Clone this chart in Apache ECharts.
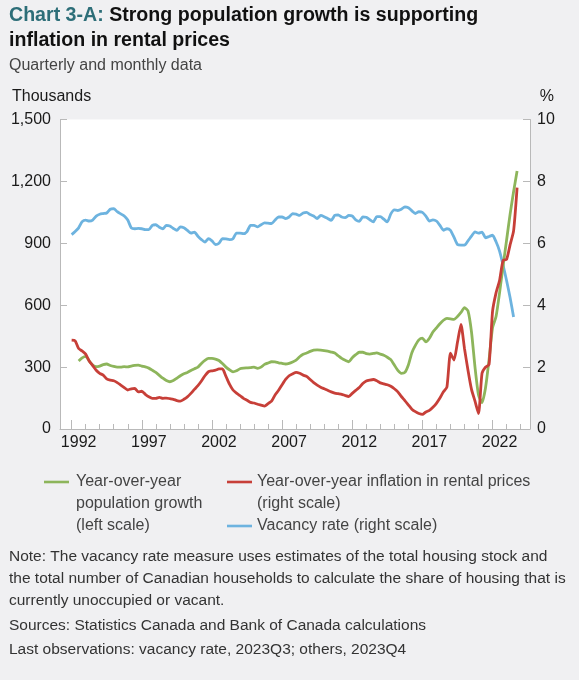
<!DOCTYPE html>
<html>
<head>
    <meta charset="utf-8">
    <title>Chart 3-A</title>
    <script type="text/javascript" src="https://cdn.jsdelivr.net/npm/echarts@6/dist/echarts.min.js"></script>
    <style>
        html, body { margin: 0; padding: 0; background: #f0f0f2; }
    </style>
</head>
<body>
<div id="main" style="width: 579px;height:680px;"></div>
<script type="text/javascript">
    // 年份刻度（每5年一个主刻度，标签放在年中）
    var majorYears = [1992, 1997, 2002, 2007, 2012, 2017, 2022];
    var minorYears = [];
    for (var y = 1992; y <= 2024; y++) minorYears.push(y);

    // 空置率（%，右轴），季度，1992Q1 - 2023Q3
    var vacancyStart = 1992.0;
    var vacancy = [
        6.28, 6.38, 6.50, 6.70, 6.75, 6.72, 6.75, 6.88, 6.94, 6.96, 6.98, 7.10,
        7.12, 7.02, 6.95, 6.88, 6.75, 6.50, 6.47, 6.48, 6.47, 6.44, 6.44, 6.58,
        6.60, 6.52, 6.47, 6.58, 6.56, 6.48, 6.42, 6.53, 6.50, 6.42, 6.33, 6.36,
        6.23, 6.12, 6.04, 6.15, 6.08, 5.96, 6.00, 6.15, 6.14, 6.12, 6.15, 6.33,
        6.33, 6.31, 6.38, 6.58, 6.58, 6.53, 6.60, 6.66, 6.65, 6.64, 6.75, 6.85,
        6.85, 6.80, 6.85, 6.96, 6.94, 6.90, 6.98, 7.00, 6.93, 6.88, 6.80, 6.90,
        6.86, 6.80, 6.74, 6.90, 6.92, 6.85, 6.83, 6.90, 6.88, 6.76, 6.71, 6.85,
        6.84, 6.76, 6.69, 6.86, 6.86, 6.78, 6.69, 6.95, 7.08, 7.06, 7.10, 7.18,
        7.15, 7.05, 6.96, 7.02, 7.00, 6.88, 6.72, 6.76, 6.72, 6.58, 6.42, 6.47,
        6.42, 6.20, 5.96, 5.94, 5.94, 6.08, 6.23, 6.37, 6.33, 6.36, 6.18, 6.22,
        6.26, 6.05, 5.75, 5.30, 4.80, 4.25, 3.62
    ];

    // 人口同比增长（千人，左轴），季度，1992Q3 - 2023Q4
    var popStart = 1992.5;
    var population = [
        330, 345, 352, 330, 310, 302, 305, 312, 315, 308, 303, 300,
        300, 302, 301, 305, 308, 310, 305, 301, 295, 285, 274, 260,
        246, 235, 229, 235, 246, 258, 268, 274, 284, 292, 300, 318,
        333, 342, 342, 339, 332, 317, 300, 287, 277, 282, 292, 295,
        296, 297, 300, 294, 300, 313, 320, 326, 325, 321, 318, 315,
        318, 325, 334, 350, 362, 368, 376, 382, 383, 382, 380, 377,
        373, 368, 355, 342, 333, 326, 345, 360, 372, 372, 365, 363,
        366, 369, 363, 357, 348, 336, 310, 284, 270, 274, 310, 370,
        405, 432, 440, 422, 440, 470, 490, 510, 527, 536, 534, 531,
        545, 565, 588, 572, 470, 300, 165, 128, 200, 335, 490, 545,
        660, 790, 915, 1040, 1150, 1250
    ];

    // 租金同比通胀（%，右轴），1992Q1 - 2023Q4
    var rentStart = 1992.0;
    var rent = [
        2.87, 2.85, 2.60, 2.52, 2.42, 2.20, 2.05, 1.90, 1.80, 1.74, 1.62, 1.58,
        1.56, 1.50, 1.42, 1.34, 1.26, 1.30, 1.31, 1.20, 1.22, 1.12, 1.04, 0.99,
        0.99, 1.02, 0.99, 1.00, 0.98, 0.96, 0.92, 0.90, 0.96, 1.04, 1.15, 1.28,
        1.40, 1.55, 1.72, 1.85, 1.88, 1.90, 1.94, 1.94, 1.70, 1.45, 1.26, 1.16,
        1.08, 0.99, 0.93, 0.86, 0.84, 0.80, 0.77, 0.74, 0.82, 0.90, 1.10, 1.25,
        1.43, 1.60, 1.72, 1.78, 1.83, 1.80, 1.74, 1.70, 1.60, 1.50, 1.42, 1.35,
        1.30, 1.25, 1.20, 1.16, 1.14, 1.12, 1.08, 1.05, 1.15, 1.25, 1.34, 1.47,
        1.55, 1.58, 1.60, 1.56, 1.49, 1.46, 1.43, 1.38, 1.30, 1.20, 1.05, 0.92,
        0.78, 0.64, 0.56, 0.50, 0.47, 0.55, 0.60, 0.70, 0.83, 1.00, 1.20, 1.36,
        2.45, 2.23, 2.80, 3.38, 2.60, 1.90, 1.28, 0.90, 0.50, 1.80, 2.00, 2.08,
        3.80, 4.40, 4.80, 5.45, 5.48, 5.95, 6.40, 7.80
    ];

    // 把季度序列转成 [年份, 值]
    function toPairs(start, values) {
        return values.map(function (v, i) { return [start + i * 0.25, v]; });
    }

    var font = 'Liberation Sans, Arial, Helvetica, sans-serif';
    var green = '#8db55b', red = '#c73f38', blue = '#6db3df';
    var axisGray = '#b9b9b9';

    var myChart = echarts.init(document.getElementById('main'));

    var option = {
        backgroundColor: '#f0f0f2',
        animation: false,
        grid: {
            left: 60, right: 49, top: 119.5, bottom: 251,
            show: true, backgroundColor: '#ffffff', borderWidth: 0
        },
        xAxis: [{
            type: 'value',
            min: 1991.17, max: 2024.67,
            axisLine: { show: true, lineStyle: { color: axisGray, width: 1 } },
            axisTick: { show: true, inside: true, length: 9, customValues: majorYears,
                lineStyle: { color: axisGray } },
            axisLabel: {
                customValues: majorYears.map(function (v) { return v + 0.5; }),
                formatter: function (v) { return String(Math.floor(v)); },
                color: '#1a1a1a', fontSize: 16, fontFamily: font, margin: 6
            },
            splitLine: { show: false }
        }, {
            // 每年的小刻度
            type: 'value',
            min: 1991.17, max: 2024.67,
            position: 'bottom',
            axisLine: { show: false },
            axisTick: { show: true, inside: true, length: 5, customValues: minorYears,
                lineStyle: { color: axisGray } },
            axisLabel: { show: false },
            splitLine: { show: false }
        }],
        yAxis: [{
            type: 'value',
            min: 0, max: 1500, interval: 300,
            position: 'left',
            axisLine: { show: true, lineStyle: { color: axisGray } },
            axisTick: { show: true, inside: true, length: 7, lineStyle: { color: axisGray } },
            axisLabel: {
                color: '#1a1a1a', fontSize: 16, fontFamily: font, margin: 9,
                formatter: function (v) { return v.toLocaleString('en-US'); }
            },
            splitLine: { show: false }
        }, {
            type: 'value',
            min: 0, max: 10, interval: 2,
            position: 'right',
            axisLine: { show: true, lineStyle: { color: axisGray } },
            axisTick: { show: true, inside: true, length: 7, lineStyle: { color: axisGray } },
            axisLabel: { color: '#1a1a1a', fontSize: 16, fontFamily: font, margin: 7 },
            splitLine: { show: false }
        }],
        series: [{
            name: 'Vacancy rate (right scale)',
            type: 'line', xAxisIndex: 0, yAxisIndex: 1,
            data: toPairs(vacancyStart, vacancy),
            showSymbol: false, smooth: 0.2,
            lineStyle: { color: blue, width: 2.8 }, itemStyle: { color: blue }
        }, {
            name: 'Year-over-year population growth (left scale)',
            type: 'line', xAxisIndex: 0, yAxisIndex: 0,
            data: toPairs(popStart, population),
            showSymbol: false, smooth: 0.2,
            lineStyle: { color: green, width: 2.8 }, itemStyle: { color: green }
        }, {
            name: 'Year-over-year inflation in rental prices (right scale)',
            type: 'line', xAxisIndex: 0, yAxisIndex: 1,
            data: toPairs(rentStart, rent),
            showSymbol: false, smooth: 0.2,
            lineStyle: { color: red, width: 2.8 }, itemStyle: { color: red }
        }],
        graphic: [
            // 标题
            { type: 'text', x: 9, y: 16, style: {
                text: '{a|Chart 3-A: }{b|Strong population growth is supporting}',
                verticalAlign: 'middle',
                rich: {
                    a: { font: 'bold 19.6px ' + font, fill: '#2d6e78' },
                    b: { font: 'bold 19.6px ' + font, fill: '#111111' }
                } } },
            { type: 'text', x: 9, y: 41, style: { text: 'inflation in rental prices',
                font: 'bold 19.6px ' + font, fill: '#111111', verticalAlign: 'middle' } },
            { type: 'text', x: 9, y: 66, style: { text: 'Quarterly and monthly data',
                font: '16px ' + font, fill: '#444444', verticalAlign: 'middle' } },
            // 轴单位
            { type: 'text', x: 12, y: 96.5, style: { text: 'Thousands',
                font: '16px ' + font, fill: '#1a1a1a', verticalAlign: 'middle' } },
            { type: 'text', x: 554, y: 96.5, style: { text: '%',
                font: '16px ' + font, fill: '#1a1a1a', verticalAlign: 'middle', align: 'right' } },
            // 图例
            { type: 'line', shape: { x1: 44, y1: 482, x2: 69, y2: 482 }, style: { stroke: green, lineWidth: 2.6 } },
            { type: 'text', x: 76, y: 471, style: { text: 'Year-over-year\npopulation growth\n(left scale)',
                font: '16px ' + font, fill: '#444444', lineHeight: 22, verticalAlign: 'top' } },
            { type: 'line', shape: { x1: 227, y1: 482, x2: 252, y2: 482 }, style: { stroke: red, lineWidth: 2.6 } },
            { type: 'text', x: 257, y: 471, style: { text: 'Year-over-year inflation in rental prices\n(right scale)',
                font: '16px ' + font, fill: '#444444', lineHeight: 22, verticalAlign: 'top' } },
            { type: 'line', shape: { x1: 227, y1: 526, x2: 252, y2: 526 }, style: { stroke: blue, lineWidth: 2.6 } },
            { type: 'text', x: 257, y: 515, style: { text: 'Vacancy rate (right scale)',
                font: '16px ' + font, fill: '#444444', lineHeight: 22, verticalAlign: 'top' } },
            // 注释
            { type: 'text', x: 9, y: 546, style: {
                text: 'Note: The vacancy rate measure uses estimates of the total housing stock and\n' +
                      'the total number of Canadian households to calculate the share of housing that is\n' +
                      'currently unoccupied or vacant.',
                font: '15.5px ' + font, fill: '#333333', lineHeight: 22, verticalAlign: 'top' } },
            { type: 'text', x: 9, y: 626, style: { text: 'Sources: Statistics Canada and Bank of Canada calculations',
                font: '15.5px ' + font, fill: '#333333', verticalAlign: 'middle' } },
            { type: 'text', x: 9, y: 650, style: { text: 'Last observations: vacancy rate, 2023Q3; others, 2023Q4',
                font: '15.5px ' + font, fill: '#333333', verticalAlign: 'middle' } }
        ]
    };

    myChart.setOption(option);
</script>
</body>
</html>
